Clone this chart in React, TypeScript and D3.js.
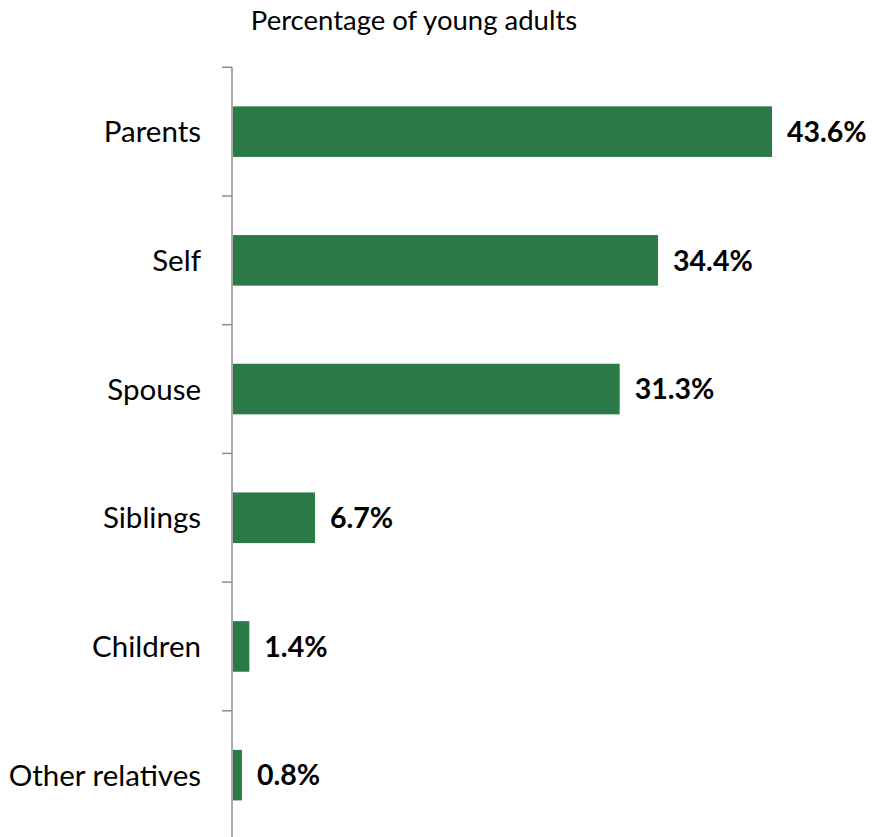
import React from "react";
import * as d3 from "d3";

const categories = ["Parents", "Self", "Spouse", "Siblings", "Children", "Other relatives"];
const values = [43.6, 34.4, 31.3, 6.7, 1.4, 0.8];
const valueLabels = ["43.6%", "34.4%", "31.3%", "6.7%", "1.4%", "0.8%"];
const title = "Percentage of young adults";

const W = 872;
const H = 837;
const axisX = 232;
const top = 67.3;
const bandStep = 128.7;

export default function App() {
  const y = d3
    .scaleBand<string>()
    .domain(categories)
    .range([top, top + bandStep * categories.length])
    .paddingInner(0.607)
    .paddingOuter(0.3035);
  const x = d3.scaleLinear().domain([0, 43.6]).range([axisX, 772]);
  const tickYs = d3.range(categories.length + 1).map((i) => top + i * bandStep);
  const font = "Lato, 'Open Sans', sans-serif";
  return (
    <svg
      width={W}
      height={H}
      style={{ position: "absolute", left: 0, top: 0, background: "#fff" }}
    >
      <text x={414} y={30} textAnchor="middle" fontFamily={font} fontSize={27.5} fill="#000">
        {title}
      </text>
      {categories.map((c, i) => (
        <g key={c}>
          <rect
            x={x(0) + 1}
            y={y(c)!}
            width={x(values[i]) - x(0) - 1}
            height={y.bandwidth()}
            fill="#2b7a48"
          />
          <text
            x={201}
            y={y(c)! + y.bandwidth() / 2}
            dy="0.36em"
            textAnchor="end"
            fontFamily={font}
            fontSize={29.5}
            fill="#000"
          >
            {c}
          </text>
          <text
            x={x(values[i]) + 15}
            y={y(c)! + y.bandwidth() / 2}
            dy="0.36em"
            fontFamily={font}
            fontSize={28.5}
            fontWeight="bold"
            fill="#000"
          >
            {valueLabels[i]}
          </text>
        </g>
      ))}
      <line x1={axisX} x2={axisX} y1={top} y2={top + bandStep * categories.length} stroke="#8c8c8c" strokeWidth={1.5} />
      {tickYs.map((t, i) => (
        <line key={i} x1={axisX - 10} x2={axisX} y1={t} y2={t} stroke="#8c8c8c" strokeWidth={1.5} />
      ))}
    </svg>
  );
}
